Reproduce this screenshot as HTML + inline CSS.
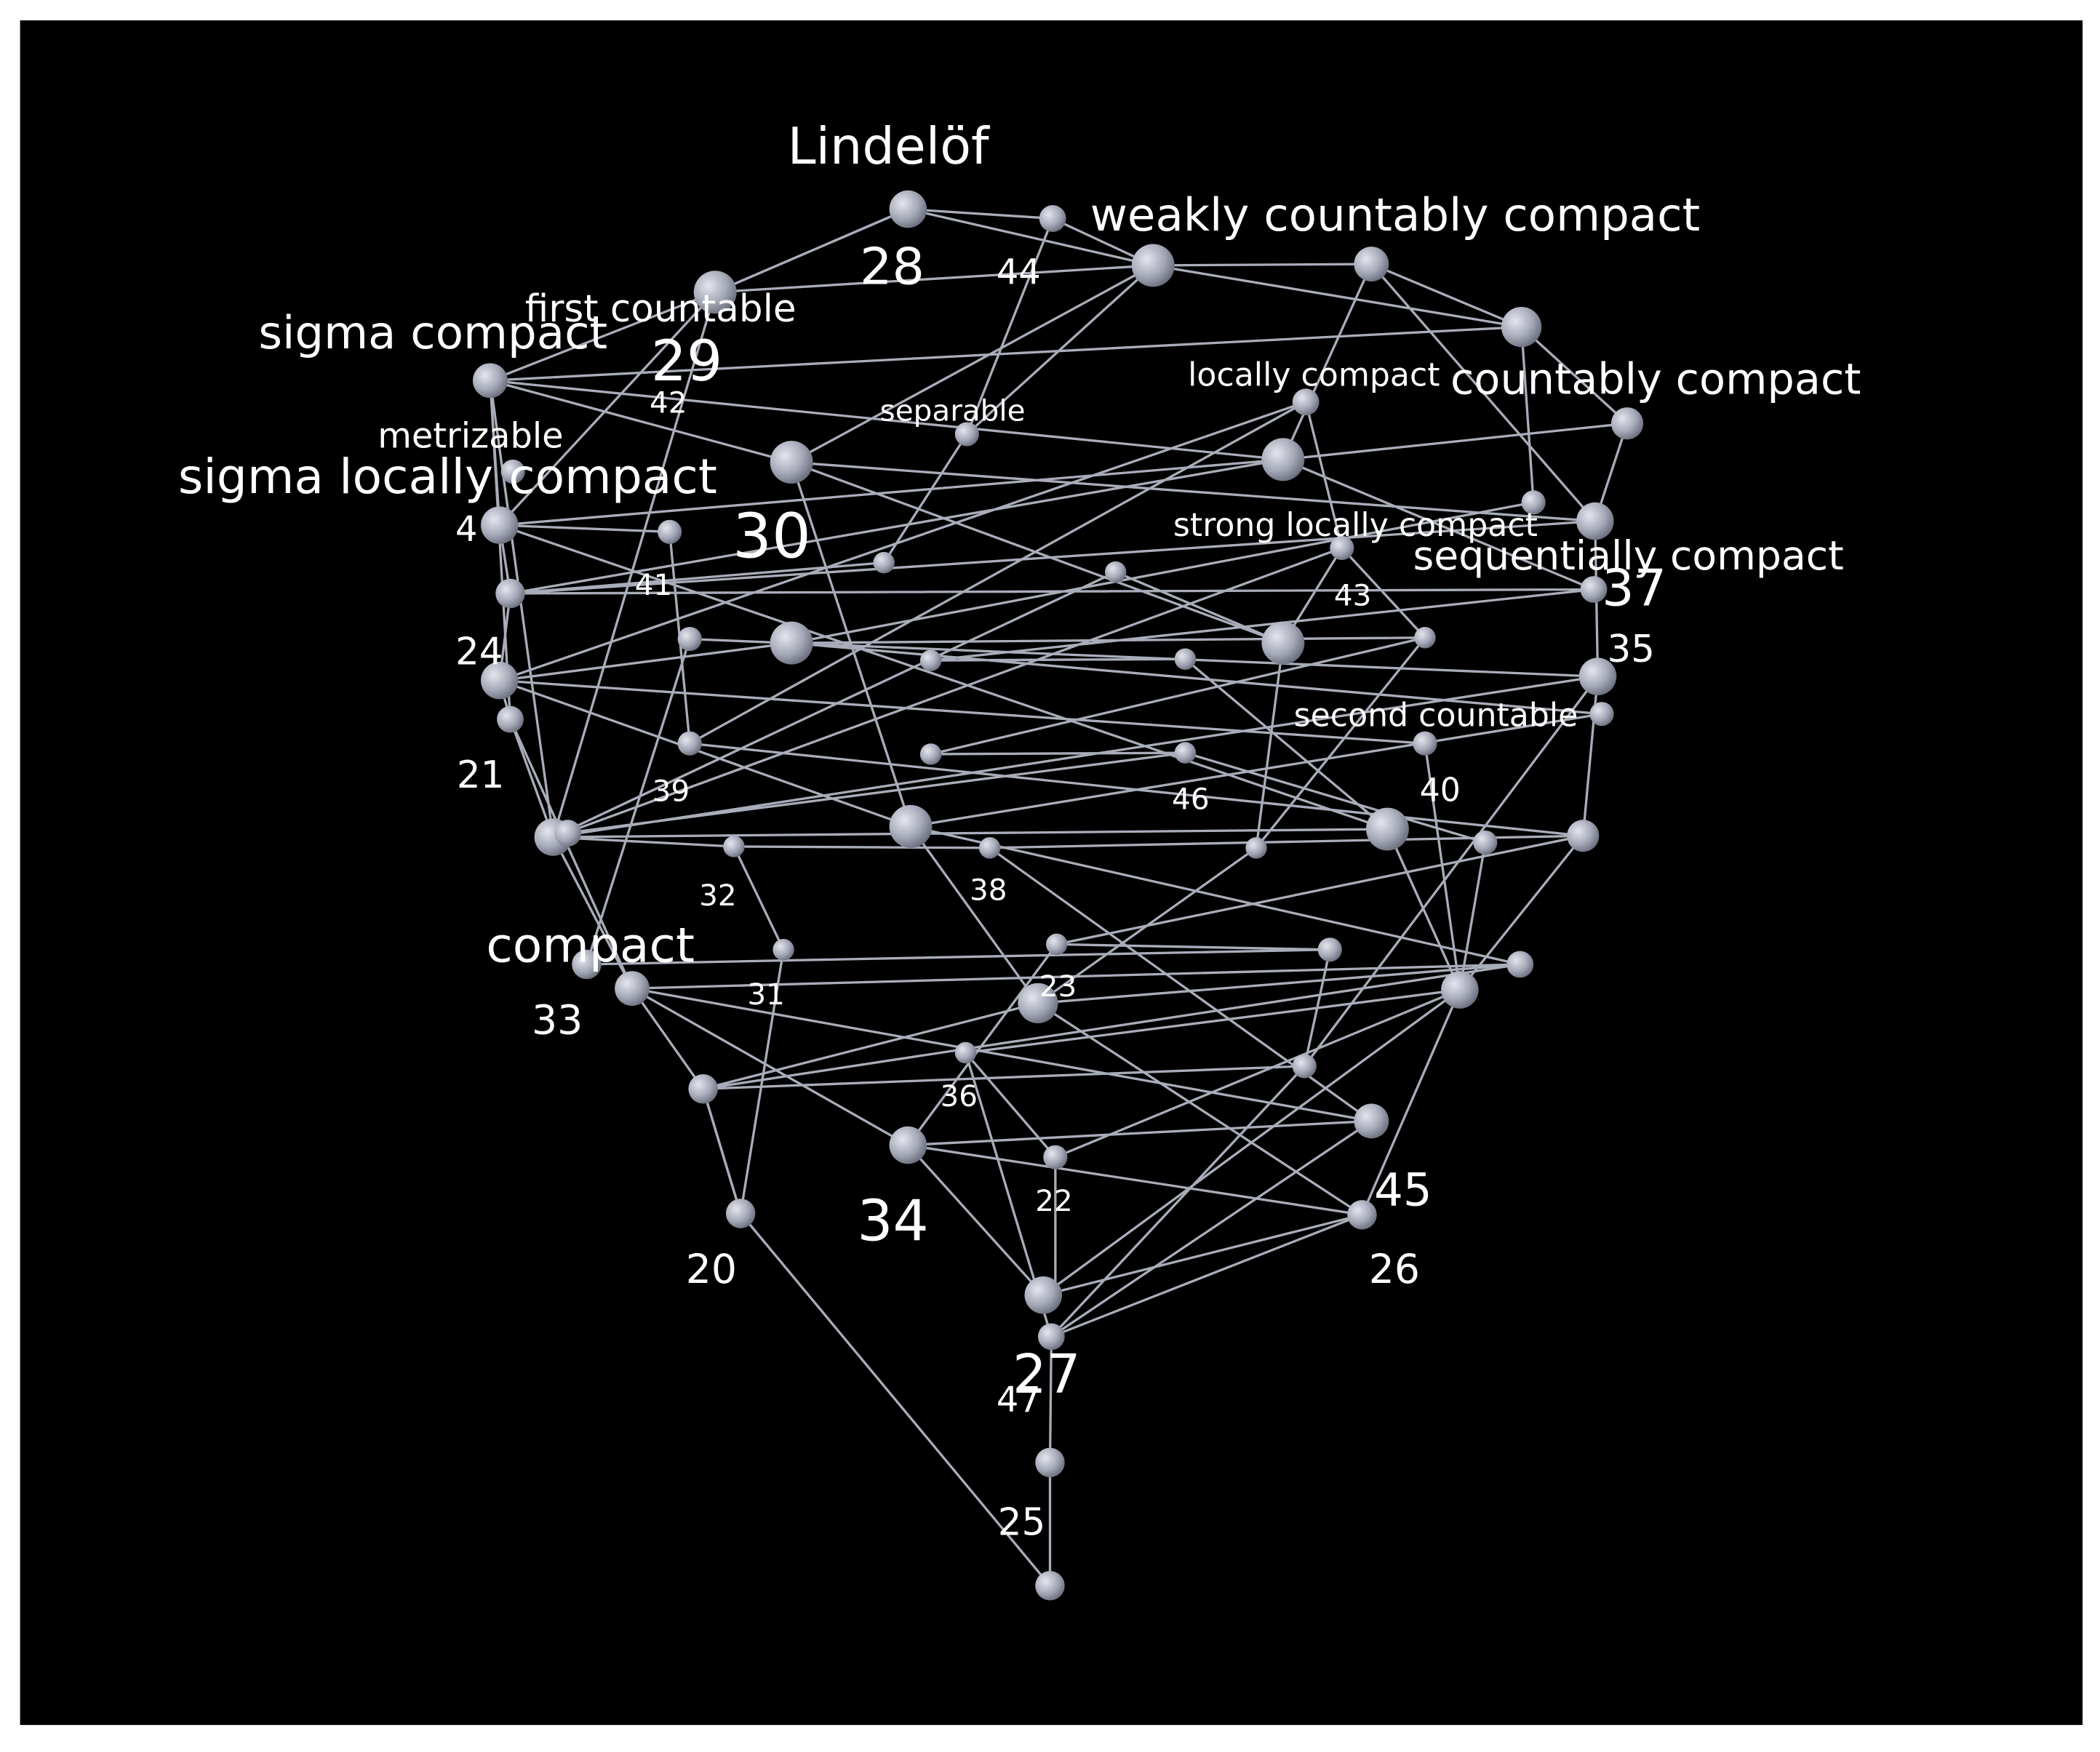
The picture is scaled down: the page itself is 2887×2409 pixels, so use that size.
<!DOCTYPE html>
<html><head><meta charset="utf-8"><style>
html,body{margin:0;padding:0;background:#fff;}
svg{display:block;}
text{fill:#fff;font-family:"DejaVu Sans","Liberation Sans",sans-serif;}
</style></head><body>
<svg width="2887" height="2409" viewBox="0 0 1568 1308" xmlns="http://www.w3.org/2000/svg">
<defs><radialGradient id="g" cx="0.35" cy="0.35" r="0.7"><stop offset="0" stop-color="#e4e6ee"/><stop offset="0.6" stop-color="#a4a8b6"/><stop offset="1" stop-color="#6a6e7c"/></radialGradient></defs>
<rect x="15" y="15" width="1540" height="1273" fill="#000"/>
<g stroke="#a9adb9" stroke-width="1.8" fill="none">
<path d="M678 156L786 163L861 198L1024 197L1136 244L1215 316L1191 389L1193 505L1182 624L1090 739L1017 907L785 998L784 1092L784 1184L553 906L525 813L472 738L413 625L381 537L373 508L381 443L373 392L366 284L534 218L678 156"/>
<path d="M678 156L861 198M678 156L534 218M534 218L861 198M861 198L1136 244M1024 197L1191 389M1136 244L366 284M366 284L591 345M366 284L958 343M534 218L373 392M534 218L413 625M861 198L591 345M861 198L722 324L660 420M786 163L722 324M1024 197L958 343M958 343L1215 316M958 343L373 392M1136 244L1145 375M1145 375L591 480M975 300L1002 409M975 300L373 508M1191 389L381 443M1191 389L591 345M591 345L958 480M591 345L680 617M500 397L373 392M500 397L515 555M660 420L381 443M833 427L958 480M833 427L413 625M381 443L1190 440M381 443L958 343M1064 476L591 480M1064 476L1002 409M515 477L1193 505M591 480L373 508M591 480L1196 533M958 480L1002 409M958 480L938 633M695 493L885 492M695 493L1190 440M885 492L1036 619M373 508L1064 555M373 508L680 617M1193 505L413 625M1196 533L680 617M381 537L472 738M515 555L1182 624M515 555L975 300M695 563L885 562M695 563L1064 476M885 562L1109 629M885 562L422 622M1064 555L1090 739M413 625L1036 619M413 625L548 632M422 622L1002 409M680 617L775 749M680 617L1135 720M1036 619L1090 739M548 632L585 709M548 632L739 633M739 633L1182 624M739 633L1024 837M938 633L1064 476M938 633L775 749M1109 629L1090 739M1182 624L789 705M789 705L993 709M789 705L678 855M585 709L553 906M993 709L974 796M993 709L438 720M1135 720L472 738M1135 720L775 749M438 720L515 477M472 738L678 855M472 738L1024 837M775 749L1017 907M775 749L525 813M1090 739L721 786M721 786L788 864M721 786L785 998M974 796L525 813M974 796L1193 505M1024 837L678 855M1024 837L785 998M678 855L779 967M678 855L1017 907M788 864L788 967M788 864L1090 739M553 906L525 813M1017 907L779 967M779 967L1090 739M785 998L974 796M366 284L381 537M373 392L1036 619M591 345L1191 389M958 343L1190 440M413 625L366 284M525 813L1135 720"/>
</g>
<g fill="url(#g)">
<circle cx="678" cy="156" r="14"/><circle cx="786" cy="163" r="10"/><circle cx="861" cy="198" r="16"/><circle cx="1024" cy="197" r="13"/><circle cx="534" cy="218" r="16"/><circle cx="1136" cy="244" r="15"/><circle cx="366" cy="284" r="13"/><circle cx="975" cy="300" r="10"/><circle cx="1215" cy="316" r="12"/><circle cx="722" cy="324" r="9"/><circle cx="591" cy="345" r="16"/><circle cx="958" cy="343" r="16"/><circle cx="383" cy="352" r="9"/><circle cx="373" cy="392" r="14"/><circle cx="1145" cy="375" r="9"/><circle cx="1191" cy="389" r="14"/><circle cx="500" cy="397" r="9"/><circle cx="1002" cy="409" r="9"/><circle cx="660" cy="420" r="8"/><circle cx="833" cy="427" r="8"/><circle cx="381" cy="443" r="11"/><circle cx="1190" cy="440" r="10"/><circle cx="1064" cy="476" r="8"/><circle cx="515" cy="477" r="9"/><circle cx="591" cy="480" r="16"/><circle cx="958" cy="480" r="16"/><circle cx="695" cy="493" r="8"/><circle cx="885" cy="492" r="8"/><circle cx="373" cy="508" r="14"/><circle cx="1193" cy="505" r="14"/><circle cx="1196" cy="533" r="9"/><circle cx="381" cy="537" r="10"/><circle cx="515" cy="555" r="9"/><circle cx="695" cy="563" r="8"/><circle cx="885" cy="562" r="8"/><circle cx="1064" cy="555" r="9"/><circle cx="413" cy="625" r="14"/><circle cx="424" cy="622" r="10"/><circle cx="680" cy="617" r="16"/><circle cx="1036" cy="619" r="16"/><circle cx="548" cy="632" r="8"/><circle cx="739" cy="633" r="8"/><circle cx="938" cy="633" r="8"/><circle cx="1109" cy="629" r="9"/><circle cx="1182" cy="624" r="12"/><circle cx="789" cy="705" r="8"/><circle cx="585" cy="709" r="8"/><circle cx="993" cy="709" r="9"/><circle cx="1135" cy="720" r="10"/><circle cx="438" cy="720" r="11"/><circle cx="472" cy="738" r="13"/><circle cx="775" cy="749" r="15"/><circle cx="1090" cy="739" r="14"/><circle cx="525" cy="813" r="11"/><circle cx="721" cy="786" r="8"/><circle cx="974" cy="796" r="9"/><circle cx="1024" cy="837" r="13"/><circle cx="678" cy="855" r="14"/><circle cx="788" cy="864" r="9"/><circle cx="553" cy="906" r="11"/><circle cx="1017" cy="907" r="11"/><circle cx="779" cy="967" r="14"/><circle cx="785" cy="998" r="10"/><circle cx="784" cy="1092" r="11"/><circle cx="784" cy="1184" r="11"/>
</g>
<g>
<text x="588" y="122" font-size="38">Lindelöf</text>
<text x="814" y="172" font-size="34">weakly countably compact</text>
<text x="642" y="212" font-size="38">28</text>
<text x="744" y="212" font-size="26">44</text>
<text x="392" y="240" font-size="28">first countable</text>
<text x="193" y="260" font-size="34">sigma compact</text>
<text x="486" y="284" font-size="42">29</text>
<text x="1083" y="294" font-size="32">countably compact</text>
<text x="887" y="288" font-size="24">locally compact</text>
<text x="485" y="308" font-size="22">42</text>
<text x="657" y="314" font-size="22">separable</text>
<text x="282" y="334" font-size="26">metrizable</text>
<text x="133" y="368" font-size="36">sigma locally compact</text>
<text x="340" y="404" font-size="26">4</text>
<text x="547" y="416" font-size="46">30</text>
<text x="876" y="400" font-size="24">strong locally compact</text>
<text x="1055" y="425" font-size="30">sequentially compact</text>
<text x="474" y="444" font-size="22">41</text>
<text x="996" y="452" font-size="22">43</text>
<text x="1196" y="452" font-size="38">37</text>
<text x="1200" y="494" font-size="28">35</text>
<text x="340" y="496" font-size="28">24</text>
<text x="966" y="542" font-size="24">second countable</text>
<text x="341" y="588" font-size="28">21</text>
<text x="487" y="598" font-size="22">39</text>
<text x="875" y="604" font-size="22">46</text>
<text x="1060" y="598" font-size="24">40</text>
<text x="522" y="676" font-size="22">32</text>
<text x="724" y="672" font-size="22">38</text>
<text x="363" y="718" font-size="36">compact</text>
<text x="776" y="744" font-size="22">23</text>
<text x="558" y="750" font-size="22">31</text>
<text x="397" y="772" font-size="30">33</text>
<text x="702" y="826" font-size="22">36</text>
<text x="1026" y="900" font-size="34">45</text>
<text x="773" y="904" font-size="22">22</text>
<text x="640" y="926" font-size="42">34</text>
<text x="512" y="958" font-size="30">20</text>
<text x="1022" y="958" font-size="30">26</text>
<text x="756" y="1040" font-size="40">27</text>
<text x="744" y="1054" font-size="26">47</text>
<text x="745" y="1146" font-size="28">25</text>
</g>
</svg>
</body></html>
